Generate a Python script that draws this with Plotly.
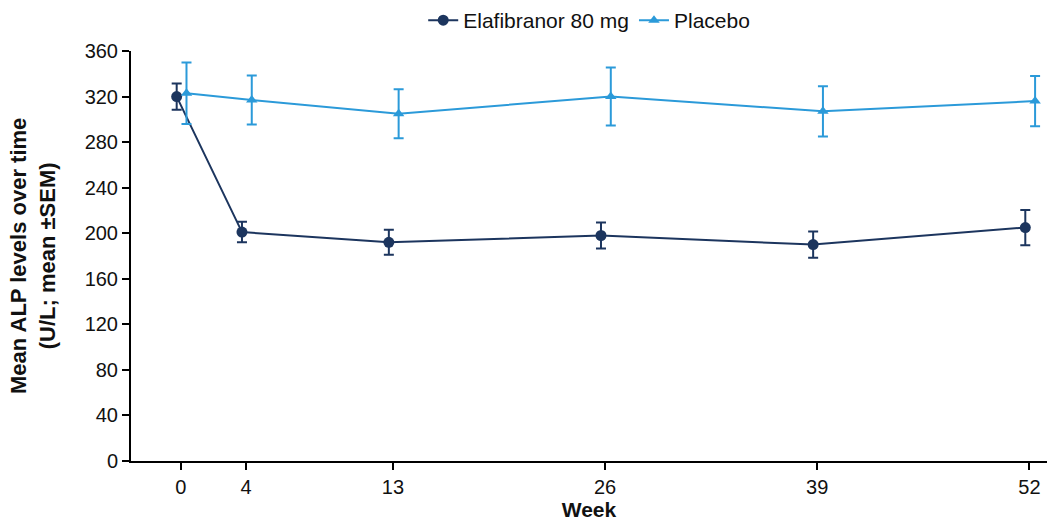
import plotly.graph_objects as go

weeks = [0, 4, 13, 26, 39, 52]
week_labels = ["0", "4", "13", "26", "39", "52"]

elafi_mean = [320, 201, 192, 198, 190, 205]
elafi_sem = [11.5, 9, 11, 11.5, 11.5, 15.5]

placebo_mean = [323, 317, 305, 320, 307, 316]
placebo_sem = [27, 21.5, 21.5, 25.5, 22, 22]

elafi_offset = -0.25
placebo_offset = 0.35

NAVY = "#1C355E"
BLUE = "#2B9AD9"
FONT = "Liberation Sans, Arial, sans-serif"
FS = 20

fig = go.Figure()
fig.add_trace(go.Scatter(
    x=[w + elafi_offset for w in weeks], y=elafi_mean,
    mode="lines+markers", name="Elafibranor 80 mg",
    line=dict(color=NAVY, width=2),
    marker=dict(symbol="circle", size=11, color=NAVY),
    error_y=dict(type="data", array=elafi_sem, visible=True, color=NAVY, thickness=2, width=5),
))
fig.add_trace(go.Scatter(
    x=[w + placebo_offset for w in weeks], y=placebo_mean,
    mode="lines+markers", name="Placebo",
    line=dict(color=BLUE, width=2),
    marker=dict(symbol="triangle-up", size=10, color=BLUE),
    error_y=dict(type="data", array=placebo_sem, visible=True, color=BLUE, thickness=2, width=5),
))

fig.update_layout(
    width=1047, height=522,
    margin=dict(l=131, r=0, t=48, b=61),
    paper_bgcolor="white", plot_bgcolor="white",
    font=dict(family=FONT, size=FS, color="#111111"),
    showlegend=True,
    legend=dict(orientation="h", x=0.319, xanchor="left", y=1.075, yanchor="middle",
                font=dict(size=21, family=FONT), itemwidth=30, tracegroupgap=0,
                bgcolor="rgba(0,0,0,0)"),
    xaxis=dict(range=[-3.05, 53.08], tickmode="array", tickvals=weeks, ticktext=week_labels,
               showline=True, linecolor="black", linewidth=2, ticks="outside", ticklen=7,
               tickwidth=2, tickcolor="black", showgrid=False, zeroline=False,
               tickfont=dict(size=FS, family=FONT),
               title=dict(text="<b>Week</b>", font=dict(size=21, family=FONT), standoff=4)),
    yaxis=dict(range=[0, 360], tickmode="array", tickvals=list(range(0, 361, 40)),
               showline=True, linecolor="black", linewidth=2, ticks="outside", ticklen=7,
               tickwidth=2, tickcolor="black", showgrid=False, zeroline=False,
               tickfont=dict(size=FS, family=FONT)),
)

fig.add_annotation(
    text="<b>Mean ALP levels over time<br>(U/L; mean ±SEM)</b>",
    xref="paper", yref="paper", x=-0.107, y=0.5, xanchor="center", yanchor="middle",
    textangle=-90, showarrow=False, font=dict(size=22, family=FONT, color="#111111"),
)

fig.write_html("out.html")
